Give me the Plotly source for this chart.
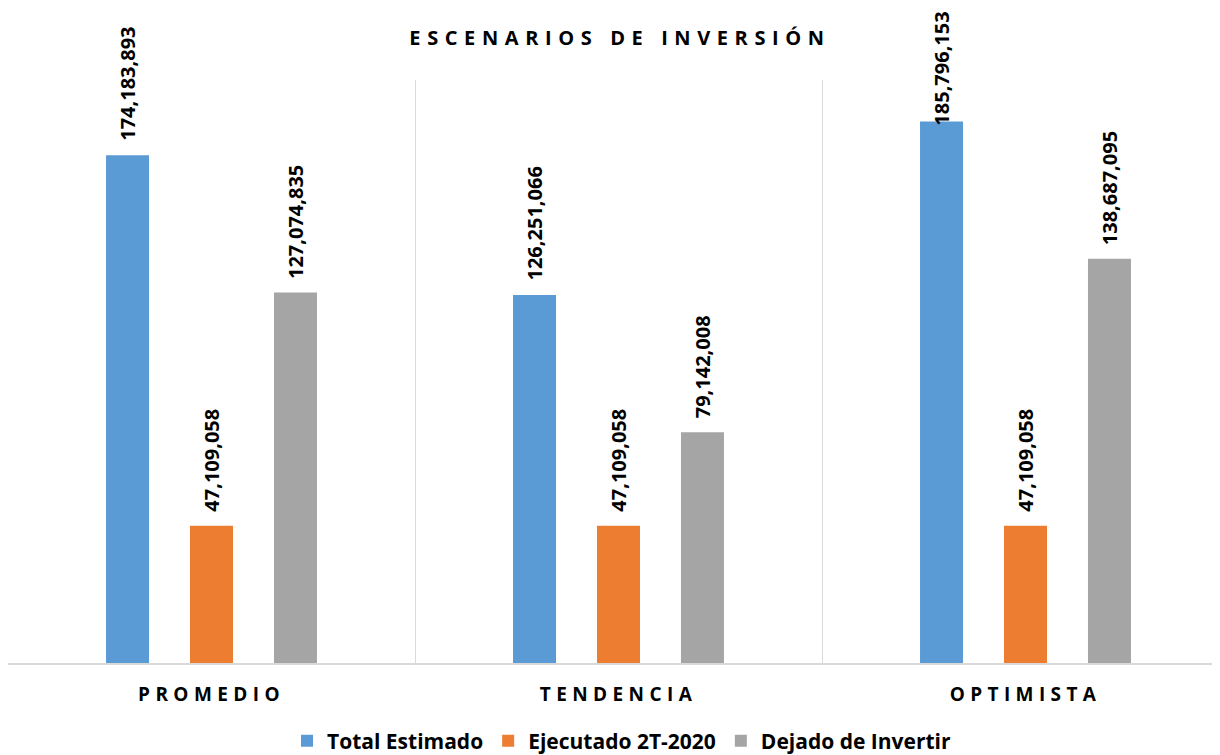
import plotly.graph_objects as go

categories = ["PROMEDIO", "TENDENCIA", "OPTIMISTA"]
series_names = ["Total Estimado", "Ejecutado 2T-2020", "Dejado de Invertir"]
total_estimado = [174183893, 126251066, 185796153]
ejecutado = [47109058, 47109058, 47109058]
dejado = [127074835, 79142008, 138687095]
colors = ["#5B9BD5", "#ED7D31", "#A5A5A5"]
title_text = "ESCENARIOS DE INVERSIÓN"

FONT = "Open Sans"
LABEL_SIZE = 20

# the page body has an 8px margin, so the figure is sized to fit the window
W, H = 1212, 747
L, R, T, B = 0, 0, 72, 92
plot_w = W - L - R
plot_h = H - T - B
cat_px = 407.0
x_max = -0.5 + plot_w / cat_px
Y_MAX = 200_000_000
BARGAP, BARGROUPGAP = 0.381, 0.488
slot_px = cat_px * (1 - BARGAP) / 3

fig = go.Figure()
all_series = [total_estimado, ejecutado, dejado]
for name, vals, col in zip(series_names, all_series, colors):
    fig.add_trace(go.Bar(
        x=categories, y=vals, name=name,
        marker=dict(color=col, line=dict(width=0)),
        hoverinfo="skip",
    ))

# value labels above bars (rotated), kept inside the figure like the original
for i, vals in enumerate(all_series):
    for c, v in zip(categories, vals):
        txt = f"{v:,}"
        n_d = sum(ch.isdigit() for ch in txt)
        n_c = txt.count(",")
        est_len = LABEL_SIZE * (0.572 * n_d + 0.28 * n_c) + 6
        bar_top = T + (Y_MAX - v) / Y_MAX * plot_h
        ysh = min(12, bar_top - est_len)
        fig.add_annotation(
            x=c, y=v, xref="x", yref="y", text=f"<b>{txt}</b>",
            showarrow=False, textangle=-90, xanchor="center", yanchor="bottom",
            xshift=(i - 1) * slot_px, yshift=ysh,
            font=dict(family=FONT, size=LABEL_SIZE, color="#000000"),
        )

def spaced(s, px):
    return f'<span style="letter-spacing:{px}px">{s}</span>'

fig.update_layout(
    width=W, height=H,
    margin=dict(l=L, r=R, t=T, b=B, pad=0, autoexpand=False),
    paper_bgcolor="#ffffff", plot_bgcolor="#ffffff",
    barmode="group", bargap=BARGAP, bargroupgap=BARGROUPGAP,
    title=dict(text="<b>" + spaced(title_text, 6.6) + "</b>",
               x=612 / W, xanchor="center", xref="container",
               y=1 - 30 / H, yanchor="middle", yref="container",
               font=dict(family=FONT, size=20, color="#000000")),
    showlegend=True,
    legend=dict(orientation="h", x=(613.5 - L) / plot_w, xanchor="center",
                y=(655 - 733) / plot_h, yanchor="middle",
                font=dict(family=FONT, size=21, color="#000000", weight="bold"),
                bgcolor="rgba(0,0,0,0)", itemclick=False),
    font=dict(family=FONT),
    hovermode=False,
)

fig.update_xaxes(
    type="category", range=[-0.5, x_max],
    tickmode="array", tickvals=categories,
    ticktext=["<b>" + spaced(c, 5.4) + "</b>" for c in categories],
    tickson="boundaries", ticks="", showgrid=True, gridcolor="#D9D9D9", gridwidth=1,
    showline=True, linecolor="#D9D9D9", linewidth=2,
    tickfont=dict(family=FONT, size=19, color="#000000"),
    ticklabelstandoff=13, zeroline=False,
)
fig.update_yaxes(
    range=[0, Y_MAX], showgrid=False, showticklabels=False, zeroline=False,
    showline=True, linecolor="#D9D9D9", linewidth=2, ticks="",
)

fig.write_html("out.html")
